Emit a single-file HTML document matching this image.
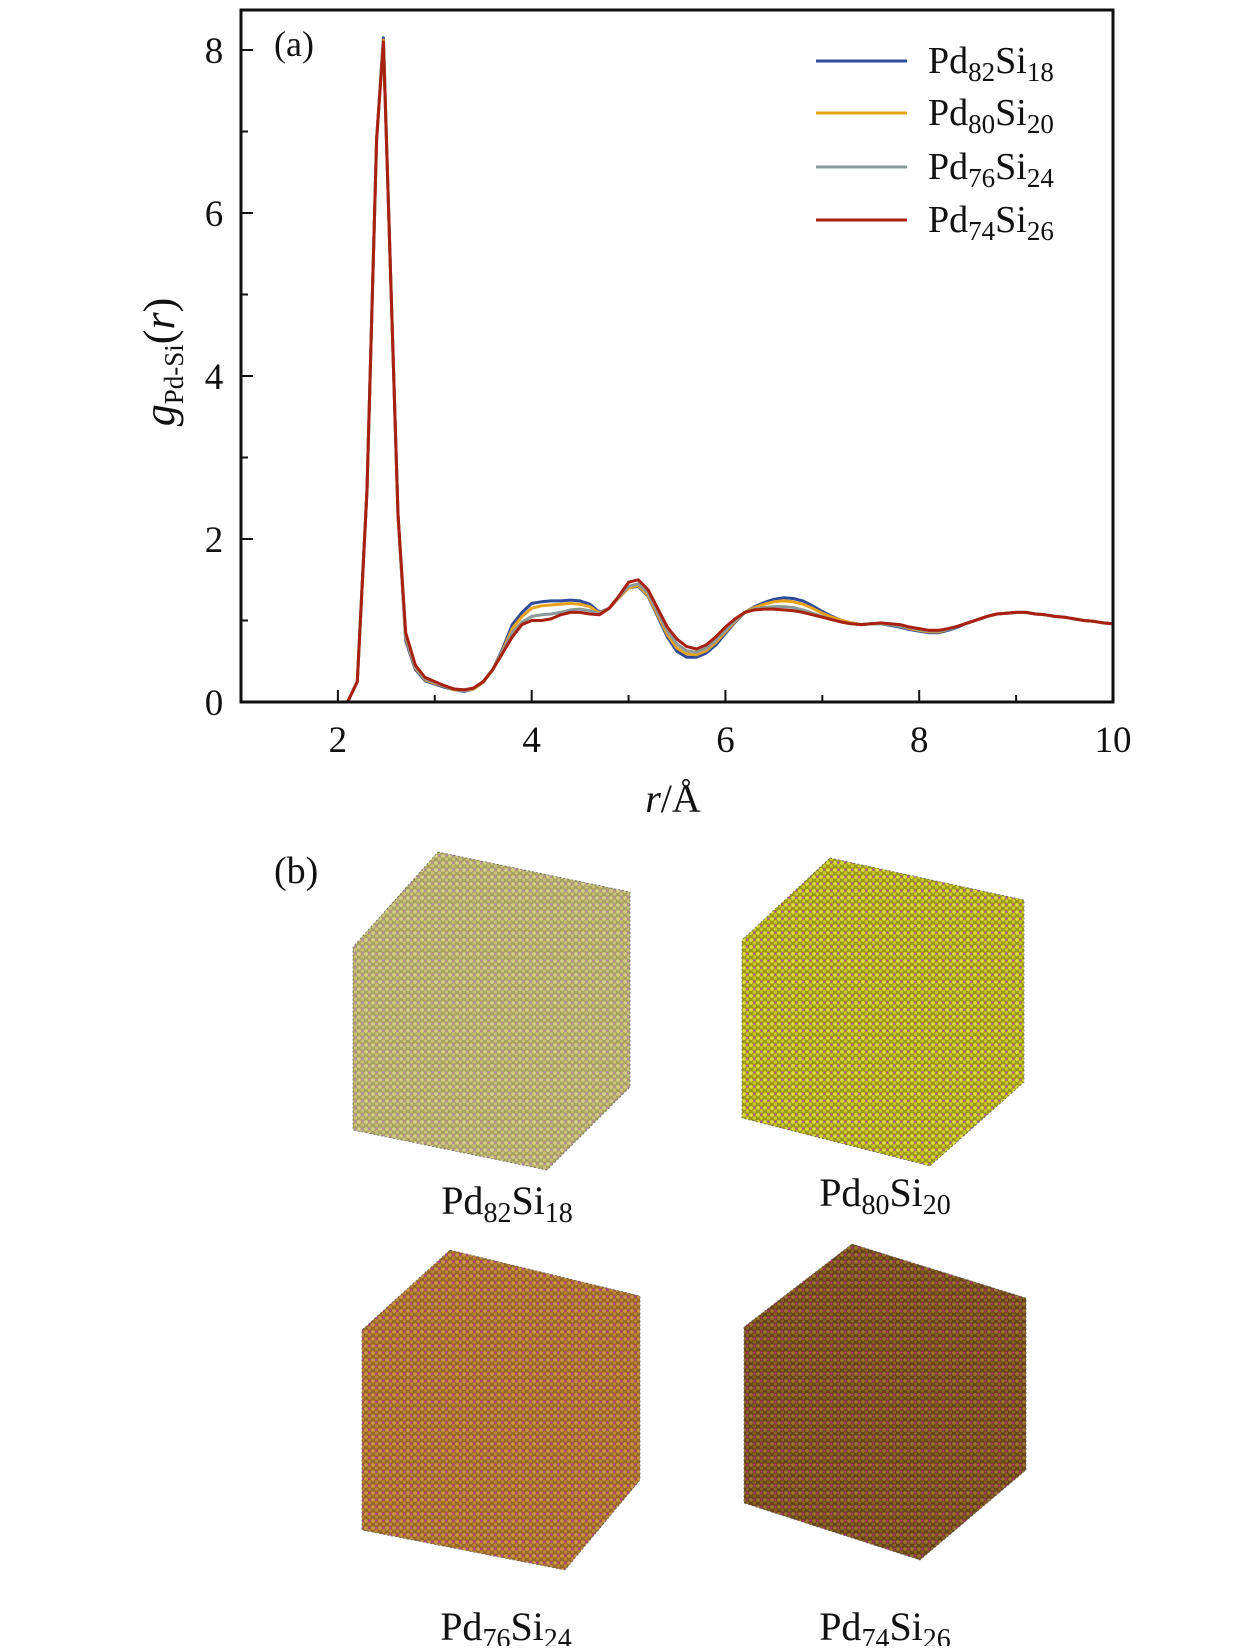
<!DOCTYPE html>
<html><head><meta charset="utf-8"><style>
html,body{margin:0;padding:0;background:#fff}
svg text{font-family:"Liberation Serif",serif;fill:#111}
</style></head><body>
<svg width="1260" height="1646" viewBox="0 0 1260 1646" xmlns="http://www.w3.org/2000/svg">
<defs>
<pattern id="p1" width="7" height="7" patternUnits="userSpaceOnUse"><rect width="7" height="7" fill="#a8a060"/><circle cx="2" cy="2" r="1.9" fill="#d6cf88"/><circle cx="5.5" cy="5" r="1.8" fill="#c8c07c"/><circle cx="5.3" cy="1.6" r="1.0" fill="#c080c4"/></pattern>
<pattern id="p2" width="7" height="7" patternUnits="userSpaceOnUse"><rect width="7" height="7" fill="#9a9618"/><circle cx="2" cy="2" r="1.9" fill="#dcdc3a"/><circle cx="5.5" cy="5" r="1.8" fill="#c8c82c"/><circle cx="5.3" cy="1.6" r="1.0" fill="#c040c0"/></pattern>
<pattern id="p3" width="7" height="7" patternUnits="userSpaceOnUse"><rect width="7" height="7" fill="#966626"/><circle cx="2" cy="2" r="1.9" fill="#cc9646"/><circle cx="5.5" cy="5" r="1.8" fill="#bc863a"/><circle cx="5.3" cy="1.6" r="1.1" fill="#c030a8"/></pattern>
<pattern id="p4" width="7" height="7" patternUnits="userSpaceOnUse"><rect width="7" height="7" fill="#64421a"/><circle cx="2" cy="2" r="1.9" fill="#9c742a"/><circle cx="5.5" cy="5" r="1.8" fill="#886022"/><circle cx="5.3" cy="1.6" r="1.1" fill="#c02880"/></pattern>
</defs>
<g id="chart"></g>
<text x="274" y="56" font-size="36">(a)</text>
<text x="274" y="883" font-size="38">(b)</text>
<g><polygon points="438,852 630,892 630,1087 547,1170 353,1130 353,947" fill="url(#p1)" stroke="#666" stroke-width="0.8" stroke-dasharray="2,2"/></g>
<g><polygon points="830,858 1024,900 1024,1082 930,1166 742,1118 742,940" fill="url(#p2)" stroke="#666" stroke-width="0.8" stroke-dasharray="2,2"/></g>
<g><polygon points="450,1250 640,1296 640,1480 565,1570 362,1530 362,1330" fill="url(#p3)" stroke="#666" stroke-width="0.8" stroke-dasharray="2,2"/></g>
<g><polygon points="852,1244 1026,1298 1026,1470 920,1560 744,1503 744,1327" fill="url(#p4)" stroke="#666" stroke-width="0.8" stroke-dasharray="2,2"/></g>
<text x="507" y="1214" font-size="40" text-anchor="middle">Pd<tspan font-size="28" dy="8">82</tspan><tspan dy="-8">Si</tspan><tspan font-size="28" dy="8">18</tspan></text>
<text x="885" y="1206" font-size="40" text-anchor="middle">Pd<tspan font-size="28" dy="8">80</tspan><tspan dy="-8">Si</tspan><tspan font-size="28" dy="8">20</tspan></text>
<text x="506" y="1640" font-size="40" text-anchor="middle">Pd<tspan font-size="28" dy="8">76</tspan><tspan dy="-8">Si</tspan><tspan font-size="28" dy="8">24</tspan></text>
<text x="885" y="1640" font-size="40" text-anchor="middle">Pd<tspan font-size="28" dy="8">74</tspan><tspan dy="-8">Si</tspan><tspan font-size="28" dy="8">26</tspan></text>
</svg>
<script>
const rValues=[2.1,2.2,2.3,2.4,2.47,2.55,2.62,2.7,2.8,2.9,3.0,3.1,3.2,3.3,3.4,3.5,3.6,3.7,3.8,3.9,4.0,4.1,4.2,4.3,4.4,4.5,4.6,4.7,4.8,4.9,5.0,5.1,5.2,5.3,5.4,5.5,5.6,5.7,5.8,5.9,6.0,6.1,6.2,6.3,6.4,6.5,6.6,6.7,6.8,6.9,7.0,7.1,7.2,7.3,7.4,7.5,7.6,7.7,7.8,7.9,8.0,8.1,8.2,8.3,8.4,8.5,8.6,8.7,8.8,8.9,9.0,9.1,9.2,9.3,9.4,9.5,9.6,9.7,9.8,9.9,10.0];
const gPd82=[0,0.25,2.6,6.9,8.15,5.0,2.3,0.75,0.4,0.26,0.22,0.18,0.15,0.13,0.16,0.24,0.4,0.65,0.95,1.1,1.21,1.23,1.24,1.24,1.25,1.24,1.2,1.1,1.15,1.28,1.4,1.42,1.3,1.05,0.8,0.62,0.55,0.55,0.6,0.7,0.84,0.98,1.1,1.17,1.22,1.26,1.28,1.27,1.24,1.18,1.11,1.05,1.0,0.97,0.95,0.96,0.96,0.94,0.92,0.89,0.87,0.85,0.85,0.88,0.92,0.97,1.01,1.05,1.08,1.09,1.1,1.1,1.08,1.07,1.05,1.04,1.02,1.0,0.99,0.97,0.96];
const gPd80=[0,0.25,2.6,6.9,8.12,5.0,2.3,0.78,0.42,0.27,0.23,0.19,0.15,0.14,0.16,0.24,0.4,0.63,0.9,1.05,1.15,1.18,1.19,1.2,1.21,1.2,1.17,1.09,1.15,1.28,1.4,1.43,1.31,1.07,0.83,0.66,0.59,0.58,0.63,0.73,0.86,0.99,1.1,1.16,1.2,1.23,1.24,1.23,1.2,1.15,1.09,1.04,1.0,0.97,0.95,0.96,0.96,0.95,0.93,0.9,0.88,0.86,0.86,0.89,0.93,0.97,1.01,1.05,1.08,1.09,1.1,1.1,1.08,1.07,1.05,1.04,1.02,1.0,0.99,0.97,0.96];
const gPd76=[0,0.25,2.6,6.9,8.1,5.0,2.3,0.8,0.43,0.28,0.24,0.19,0.16,0.14,0.17,0.25,0.4,0.62,0.85,0.98,1.05,1.07,1.08,1.1,1.13,1.14,1.12,1.08,1.15,1.29,1.42,1.45,1.34,1.1,0.87,0.71,0.63,0.61,0.66,0.76,0.88,1.0,1.1,1.14,1.16,1.17,1.17,1.16,1.13,1.09,1.05,1.01,0.98,0.96,0.95,0.96,0.96,0.95,0.93,0.91,0.89,0.87,0.87,0.89,0.93,0.97,1.01,1.05,1.08,1.09,1.1,1.1,1.08,1.07,1.05,1.04,1.02,1.0,0.99,0.97,0.96];
const gPd74=[0,0.25,2.6,6.9,8.1,5.0,2.3,0.85,0.45,0.3,0.25,0.2,0.16,0.15,0.17,0.25,0.4,0.6,0.8,0.95,1.0,1.0,1.02,1.07,1.1,1.1,1.08,1.07,1.15,1.3,1.47,1.5,1.38,1.15,0.92,0.77,0.68,0.65,0.7,0.8,0.92,1.02,1.1,1.13,1.14,1.14,1.13,1.12,1.1,1.07,1.04,1.01,0.98,0.96,0.95,0.96,0.97,0.96,0.95,0.92,0.9,0.88,0.88,0.9,0.93,0.97,1.01,1.05,1.08,1.09,1.1,1.1,1.08,1.07,1.05,1.04,1.02,1.0,0.99,0.97,0.96];
const seriesNames=["Pd82Si18","Pd80Si20","Pd76Si24","Pd74Si26"];
const seriesSubs=[["82","18"],["80","20"],["76","24"],["74","26"]];
const seriesColors=["#2e4a9a","#e8a21a","#8a9a98","#a82010"];
const xTicks=[2,4,6,8,10];
const yTicks=[0,2,4,6,8];

const NS="http://www.w3.org/2000/svg";
const L=241,R=1113,T=10,B=702;
const xMin=1,xMax=10,yMin=0;
const yPerUnit=(B-50)/8;
function xs(v){return L+(v-xMin)/(xMax-xMin)*(R-L);}
function ys(v){return B-(v-yMin)*yPerUnit;}
const g=document.getElementById('chart');
function mk(tag,attrs){const e=document.createElementNS(NS,tag);for(const k in attrs)e.setAttribute(k,attrs[k]);g.appendChild(e);return e;}

const allSeries=[gPd82,gPd80,gPd76,gPd74];
allSeries.forEach((s,i)=>{
  const d=s.map((v,j)=>(j?'L':'M')+xs(rValues[j]).toFixed(1)+','+ys(v).toFixed(1)).join(' ');
  const p=mk('path',{d:d,fill:'none',stroke:seriesColors[i],'stroke-width':3,'stroke-linejoin':'round'});
  
  
});

const frame=mk('rect',{x:L,y:T,width:R-L,height:B-T,fill:'none',stroke:'#111','stroke-width':3});



for(let v=1;v<=10;v++){
  const major=v%2===0;
  const t=mk('line',{x1:xs(v),x2:xs(v),y1:B,y2:B-(major?12:7),stroke:'#111','stroke-width':2});
  
  
}
xTicks.forEach(v=>{
  const t=mk('text',{x:xs(v),y:B+50,'font-size':37,'text-anchor':'middle'});
  t.textContent=v;
  
  
});
for(let v=0;v<=8;v++){
  const major=v%2===0;
  const t=mk('line',{x1:L,x2:L+(major?12:7),y1:ys(v),y2:ys(v),stroke:'#111','stroke-width':2});
  
  
}
yTicks.forEach(v=>{
  const t=mk('text',{x:214,y:ys(v)+13,'font-size':37,'text-anchor':'middle'});
  t.textContent=v;
  
  
});

const xt=mk('text',{x:673,y:812,'font-size':40,'text-anchor':'middle'});
xt.innerHTML='<tspan font-style="italic">r</tspan>/Å';



const yt=mk('text',{x:0,y:0,'font-size':44,'text-anchor':'middle',transform:'translate(174,362) rotate(-90)'});
yt.innerHTML='<tspan font-style="italic">g</tspan><tspan font-size="27" dy="9">Pd-Si</tspan><tspan dy="-9">(</tspan><tspan font-style="italic">r</tspan>)';



const legY=[61,113,167,220];
seriesNames.forEach((n,i)=>{
  const ln=mk('line',{x1:816,x2:907,y1:legY[i],y2:legY[i],stroke:seriesColors[i],'stroke-width':3});
  
  
  const tx=mk('text',{x:928,y:legY[i]+12,'font-size':38});
  tx.innerHTML='Pd<tspan font-size="27" dy="8">'+seriesSubs[i][0]+'</tspan><tspan dy="-8">Si</tspan><tspan font-size="27" dy="8">'+seriesSubs[i][1]+'</tspan>';
  
  
});
</script>
</body></html>
